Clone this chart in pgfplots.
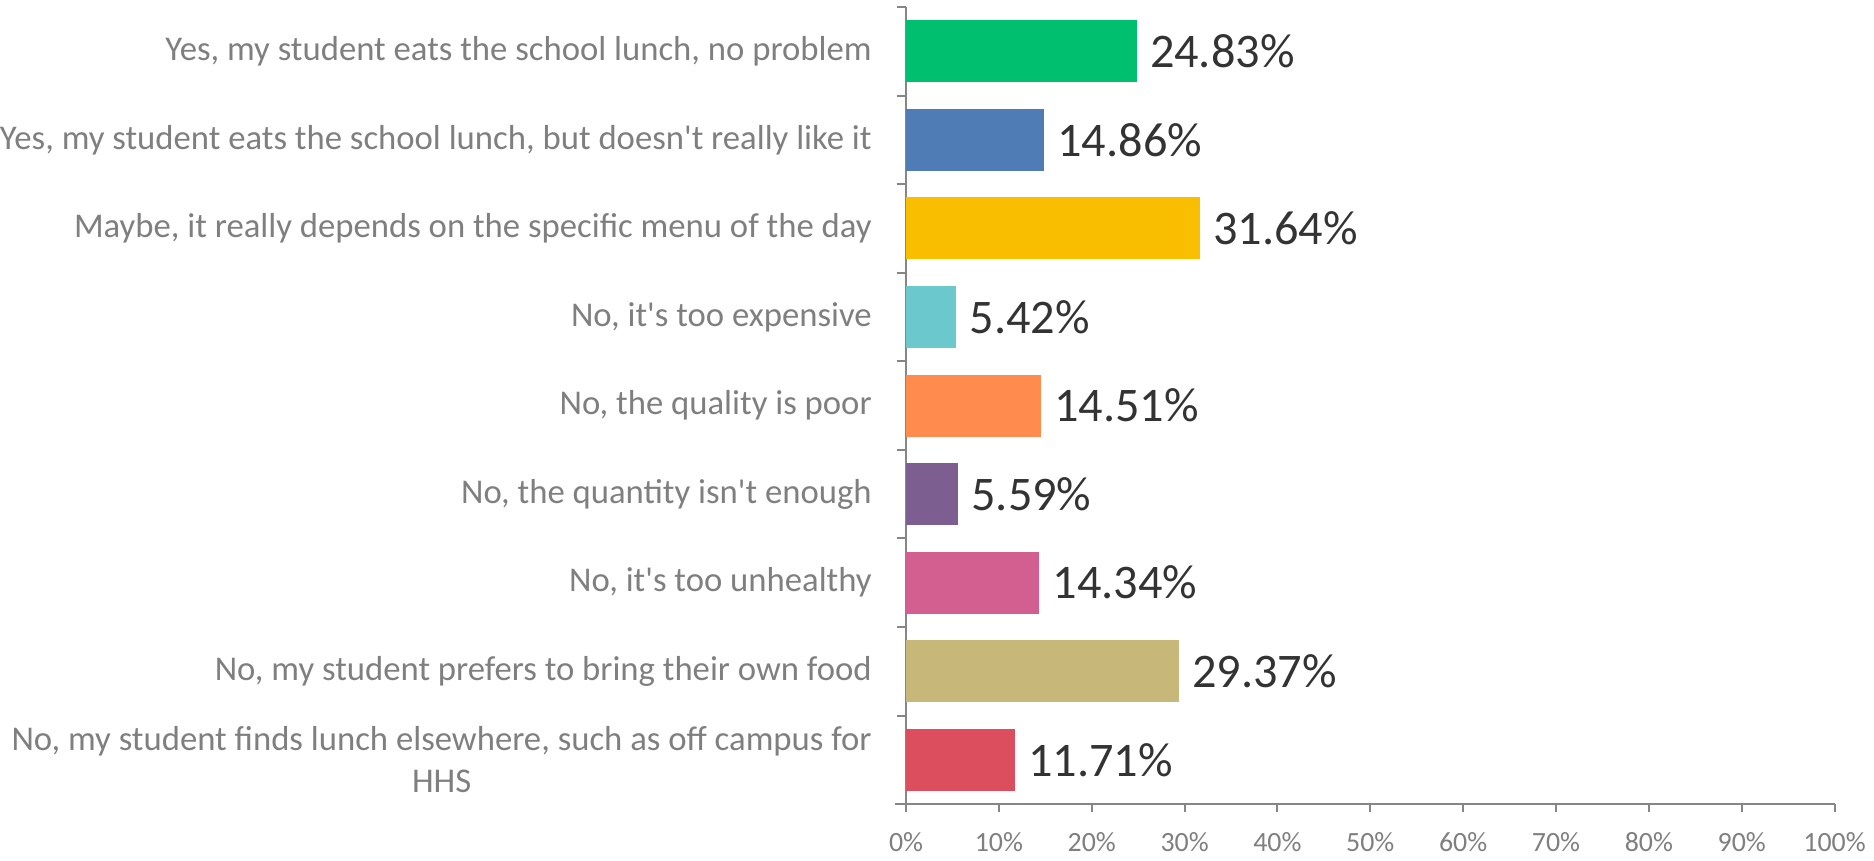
\documentclass[border=0pt]{standalone}
\usepackage{pgfplots}
\pgfplotsset{compat=1.18}
\usepackage{fontspec}
\setmainfont{Carlito}
\definecolor{cGreen}{HTML}{00BF6F}
\definecolor{cBlue}{HTML}{507CB6}
\definecolor{cYellow}{HTML}{F9BE00}
\definecolor{cTeal}{HTML}{6BC8CD}
\definecolor{cOrange}{HTML}{FF8B4F}
\definecolor{cPurple}{HTML}{7D5E90}
\definecolor{cPink}{HTML}{D25F90}
\definecolor{cTan}{HTML}{C7B879}
\definecolor{cRed}{HTML}{DC4E5E}
\definecolor{axisgray}{HTML}{868686}
\definecolor{labelgray}{HTML}{7F7F7F}
\definecolor{valgray}{HTML}{333333}
\newcommand{\q}{\textquotesingle}
\begin{document}
\begin{tikzpicture}
\begin{axis}[
  xbar,
  scale only axis,
  width=373.2pt, height=320.4pt,
  xmin=0, xmax=100,
  ymin=-0.5, ymax=8.5,
  y dir=reverse,
  bar width=0.7,
  bar shift=0pt,
  axis x line*=bottom,
  axis y line*=left,
  axis line style={draw=axisgray, line width=0.8pt},
  x axis line style={shorten <=-4.4pt},
  tick align=outside,
  major tick length=3.2pt,
  minor tick length=3.8pt,
  xtick={0,10,...,100},
  xticklabels={0\%,10\%,20\%,30\%,40\%,50\%,60\%,70\%,80\%,90\%,100\%},
  xticklabel style={font=\fontsize{11.2}{13}\selectfont, text=labelgray, yshift=-4.5pt},
  x tick style={draw=axisgray, line width=0.8pt},
  ytick={0,...,8},
  yticklabels={
    {Yes, my student eats the school lunch, no problem},
    {Yes, my student eats the school lunch, but doesn\q t really like it},
    {Maybe, it really depends on the specific menu of the day},
    {No, it\q s too expensive},
    {No, the quality is poor},
    {No, the quantity isn\q t enough},
    {No, it\q s too unhealthy},
    {No, my student prefers to bring their own food},
    {No, my student finds lunch elsewhere, such as off campus for\\HHS}},
  yticklabel style={align=center, font=\fontsize{13.95}{17}\selectfont, text=labelgray, inner sep=0pt, xshift=-10.4pt},
  major y tick style={draw=none},
  minor ytick={-0.5,0.5,...,8.5},
  minor y tick style={draw=axisgray, line width=0.8pt},
  point meta=explicit symbolic,
  nodes near coords,
  every node near coord/.append style={font=\fontsize{19.4}{22}\selectfont, text=valgray, anchor=west, inner sep=0pt, xshift=5.2pt},
]
\addplot[fill=cGreen, draw=none] coordinates {(24.83,0) [24.83\%]};
\addplot[fill=cBlue, draw=none] coordinates {(14.86,1) [14.86\%]};
\addplot[fill=cYellow, draw=none] coordinates {(31.64,2) [31.64\%]};
\addplot[fill=cTeal, draw=none] coordinates {(5.42,3) [5.42\%]};
\addplot[fill=cOrange, draw=none] coordinates {(14.51,4) [14.51\%]};
\addplot[fill=cPurple, draw=none] coordinates {(5.59,5) [5.59\%]};
\addplot[fill=cPink, draw=none] coordinates {(14.34,6) [14.34\%]};
\addplot[fill=cTan, draw=none] coordinates {(29.37,7) [29.37\%]};
\addplot[fill=cRed, draw=none] coordinates {(11.71,8) [11.71\%]};
\end{axis}
\path (current axis.south east) ++(13.2pt,-22.8pt);
\path (current axis.north west) ++(0,2.8pt);
\end{tikzpicture}
\end{document}
